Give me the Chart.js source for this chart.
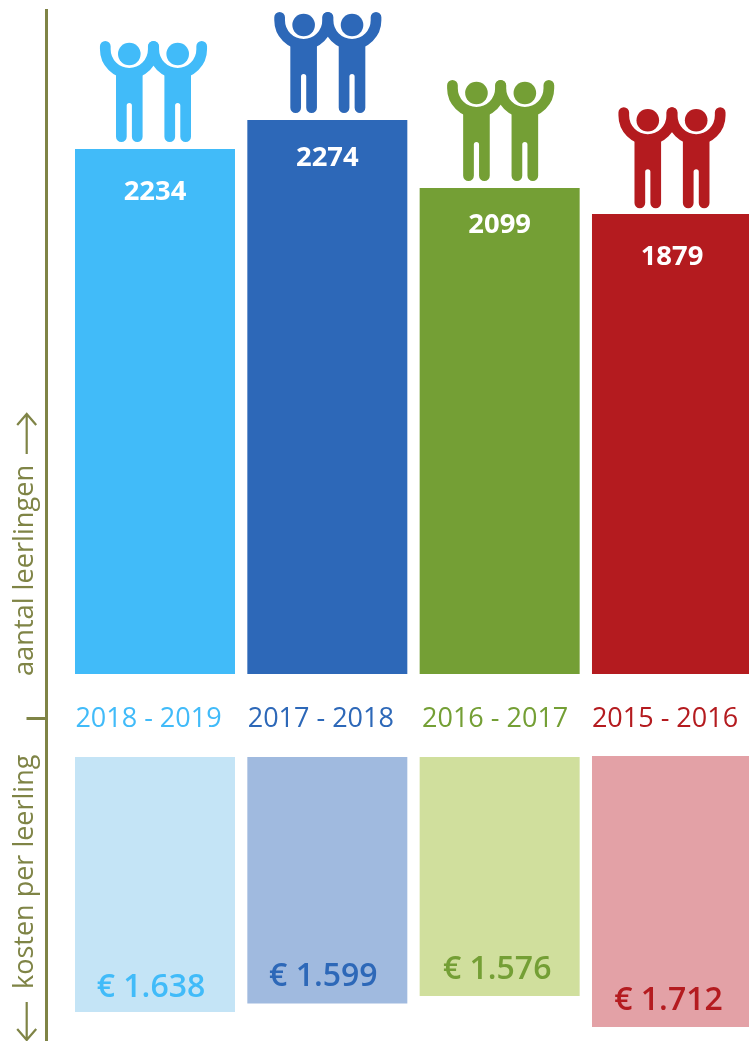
<!DOCTYPE html>
<html lang="nl">
<head>
<meta charset="utf-8">
<title>Aantal leerlingen en kosten per leerling</title>
<script src="https://cdn.jsdelivr.net/npm/chart.js@4"></script>
<style>
    html, body { margin: 0; padding: 0; background: #fff; overflow: hidden; }
    canvas { display: block; }
</style>
</head>
<body>
<canvas id="leerlingChart" width="749" height="1041"></canvas>
<script>
const schooljaren = ['2018 - 2019', '2017 - 2018', '2016 - 2017', '2015 - 2016'];
const aantalLeerlingen = [2234, 2274, 2099, 1879];
const kostenPerLeerling = [1638, 1599, 1576, 1712];

// The bars in the picture are not proportional to their labels, so lengths are read off separately
const aantalBalkStart = [44.5, 44.5, 44.5, 44.5];
const aantalBalkLengte = [525, 554, 486, 460];
const kostenBalkStart = [-38.5, -38.5, -38.5, -37.5];
const kostenBalkLengte = [255, 246.5, 239, 271];

const kleuren = ['#41BBF9', '#2D68B8', '#749F35', '#B41B1F'];
const lichteKleuren = ['#C4E4F6', '#A0BADF', '#D0DF9D', '#E3A1A6'];
const asKleur = '#7F8446';
const fontFamily = '"Open Sans", sans-serif';

// Small per-column nudges of the text and icons, in pixels
const aantalTekstDy = [43, 38, 37, 43];
const kostenTekstDy = [-24, -27, -26, -26];
const jaarTekstDx = [-6.5, -6.5, -4.5, -7];
const kostenTekstDx = [-4, -4, -2.5, -3.5];
const iconDx = [-1.5, 0.5, 1, 0];
const iconDy = [0, 0, 0, 1.3];

// One figure with raised arms, (0, 0) is the centre of the head
function drawPerson(ctx, x, y) {
    ctx.save();
    ctx.translate(x, y);

    ctx.beginPath();
    ctx.arc(0, 0, 11.3, 0, Math.PI * 2);
    ctx.fill();

    ctx.lineWidth = 10.7;
    ctx.lineCap = 'round';
    ctx.beginPath();
    ctx.moveTo(-24, -7.7);
    ctx.lineTo(-24, -4.7);
    ctx.arc(0, -4.7, 24, Math.PI, 0, true);
    ctx.lineTo(24, -7.7);
    ctx.stroke();

    // body and legs as one outline
    ctx.beginPath();
    ctx.moveTo(-13.3, 16);
    ctx.lineTo(13.3, 16);
    ctx.lineTo(13.3, 82.7);
    ctx.arc(7.95, 82.7, 5.35, 0, Math.PI);
    ctx.lineTo(2.6, 51.5);
    ctx.arc(0, 51.5, 2.6, 0, Math.PI, true);
    ctx.lineTo(-2.6, 82.7);
    ctx.arc(-7.95, 82.7, 5.35, 0, Math.PI);
    ctx.closePath();
    ctx.fill();
    ctx.restore();
}

function drawArrow(ctx, x, yStart, yTip) {
    const dir = yTip < yStart ? 1 : -1;
    ctx.beginPath();
    ctx.moveTo(x, yStart);
    ctx.lineTo(x, yTip);
    ctx.moveTo(x - 9.5, yTip + dir * 11);
    ctx.lineTo(x, yTip);
    ctx.lineTo(x + 9.5, yTip + dir * 11);
    ctx.stroke();
}

function drawVerticalText(ctx, text, x, y) {
    ctx.save();
    ctx.translate(x, y);
    ctx.rotate(-Math.PI / 2);
    ctx.textAlign = 'left';
    ctx.textBaseline = 'alphabetic';
    ctx.fillText(text, 0, 0);
    ctx.restore();
}

function formatEuro(value) {
    return '€ ' + String(value).replace(/(\d)(\d{3})$/, '$1.$2');
}

// Everything around the bars: figures, value labels, school years, axis captions
const annotationPlugin = {
    id: 'annotations',
    afterDatasetsDraw(chart) {
        const ctx = chart.ctx;
        const boven = chart.getDatasetMeta(0).data;
        const onder = chart.getDatasetMeta(1).data;

        ctx.save();
        ctx.textAlign = 'center';
        ctx.textBaseline = 'middle';

        schooljaren.forEach((jaar, i) => {
            const kolomX = boven[i].x;
            const bovenY = boven[i].y;

            ctx.fillStyle = kleuren[i];
            ctx.strokeStyle = kleuren[i];
            drawPerson(ctx, kolomX + iconDx[i] - 24.2, bovenY - 95 + iconDy[i]);
            drawPerson(ctx, kolomX + iconDx[i] + 24.2, bovenY - 95 + iconDy[i]);

            ctx.fillStyle = '#fff';
            ctx.font = `700 27.4px ${fontFamily}`;
            ctx.fillText(aantalLeerlingen[i], kolomX, bovenY + aantalTekstDy[i]);

            ctx.fillStyle = kleuren[i];
            ctx.font = `400 27px ${fontFamily}`;
            ctx.fillText(jaar, kolomX + jaarTekstDx[i], 719);

            ctx.font = `600 32px ${fontFamily}`;
            ctx.fillText(formatEuro(kostenPerLeerling[i]), kolomX + kostenTekstDx[i], onder[i].y + kostenTekstDy[i]);
        });

        ctx.fillStyle = asKleur;
        ctx.font = `400 27.2px ${fontFamily}`;
        drawVerticalText(ctx, 'aantal leerlingen', 33, 676);
        ctx.font = `400 27px ${fontFamily}`;
        drawVerticalText(ctx, 'kosten per leerling', 33, 989);

        ctx.strokeStyle = asKleur;
        ctx.lineWidth = 2.2;
        drawArrow(ctx, 26.7, 454, 414);
        drawArrow(ctx, 26.7, 1002, 1040);
        ctx.restore();
    }
};

const ctx = document.getElementById('leerlingChart').getContext('2d');

new Chart(ctx, {
    type: 'bar',
    data: {
        datasets: [
            {
                label: 'aantal leerlingen',
                data: schooljaren.map((jaar, i) => ({ x: i, y: [aantalBalkStart[i], aantalBalkStart[i] + aantalBalkLengte[i]] })),
                backgroundColor: kleuren
            },
            {
                label: 'kosten per leerling',
                data: schooljaren.map((jaar, i) => ({ x: i, y: [kostenBalkStart[i], kostenBalkStart[i] - kostenBalkLengte[i]] })),
                backgroundColor: lichteKleuren
            }
        ]
    },
    options: {
        responsive: false,
        animation: false,
        devicePixelRatio: 1,
        layout: { padding: { top: 10, left: 0, right: 0, bottom: 0 } },
        plugins: {
            legend: { display: false },
            tooltip: { enabled: false }
        },
        datasets: {
            bar: { barThickness: 160, grouped: false, inflateAmount: 0, borderWidth: 0 }
        },
        scales: {
            x: {
                type: 'linear',
                display: false,
                offset: false,
                min: -0.6296,
                max: 3.4469
            },
            y: {
                min: -322.5,
                max: 708.5,
                afterBuildTicks: (scale) => { scale.ticks = [{ value: 0 }]; },
                afterFit: (scale) => { scale.width = 46.5; },
                ticks: { display: false },
                border: { color: asKleur, width: 3 },
                grid: {
                    drawOnChartArea: false,
                    drawTicks: true,
                    tickLength: 20,
                    tickWidth: 3,
                    tickColor: asKleur
                }
            }
        }
    },
    plugins: [annotationPlugin]
});
</script>
</body>
</html>
